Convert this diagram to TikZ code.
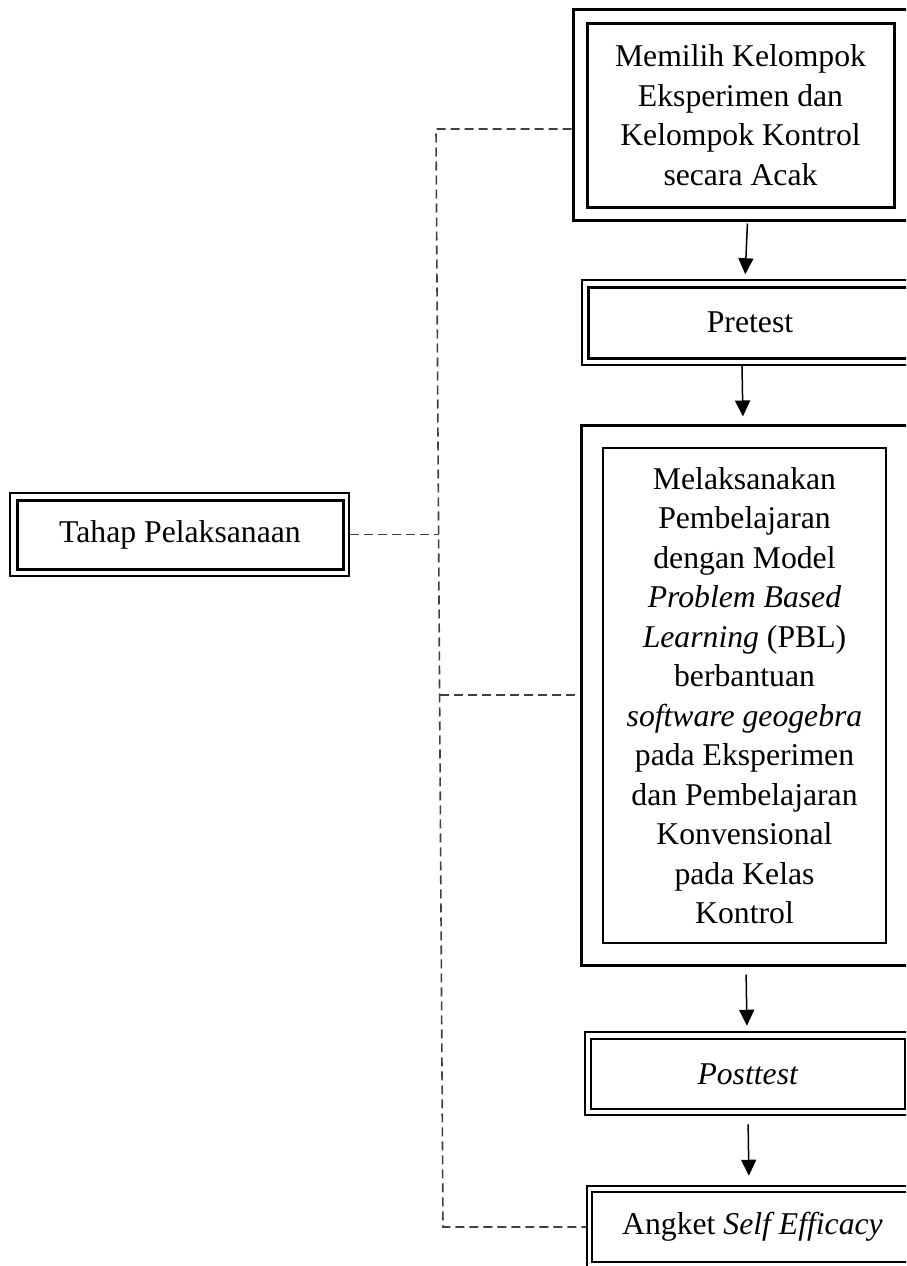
\documentclass[tikz,border=0pt]{standalone}
\usepackage{fontspec}
\setmainfont{Liberation Serif}
\usetikzlibrary{arrows.meta}

\begin{document}
\begin{tikzpicture}[x=1pt,y=-1pt,
  boxline/.style={draw=black, line width=#1, inner sep=0pt, anchor=center},
  boxtext/.style={align=center, font=\fontsize{31.7}{39.5}\selectfont},
  flowarrow/.style={-{Triangle[length=16pt,width=15pt]}, line width=1.5pt},
  dashlink/.style={draw=black!75, line width=1.6pt, dash pattern=on 9pt off 5pt}]

\useasboundingbox (0,0) rectangle (906,1266);
\clip (0,0) rectangle (906,1266);

% ------------------------------------------------------------
% Left box: stage name
% ------------------------------------------------------------
\node[boxline=2pt, minimum width=339pt, minimum height=83pt] (tahapO) at (179.5,534.5) {};
\node[boxline=3pt, boxtext, minimum width=326pt, minimum height=69pt] (tahapI) at (180,534.5)
{Tahap Pelaksanaan};

% ------------------------------------------------------------
% Right column: steps (outer frame + inner frame)
% ------------------------------------------------------------

% step 1
\node[boxline=3pt, minimum width=349pt, minimum height=211pt] (pilihO) at (747.5,114.5) {};
\node[boxline=3pt, boxtext, minimum width=307pt, minimum height=184pt] (pilihI) at (740.5,115)
{Memilih Kelompok\\Eksperimen dan\\Kelompok Kontrol\\secara Acak};

% step 2
\node[boxline=1.5pt, minimum width=336pt, minimum height=85pt] (preO) at (750,322.5) {};
\node[boxline=3pt, boxtext, minimum width=324pt, minimum height=71pt] (preI) at (750,322.5)
{Pretest};

% step 3
\node[boxline=3pt, minimum width=341pt, minimum height=540pt] (laksanaO) at (751.5,695) {};
\node[boxline=2.5pt, boxtext, minimum width=283pt, minimum height=495pt] (laksanaI) at (744.5,695.5)
{Melaksanakan\\Pembelajaran\\dengan Model\\\textit{Problem Based}\\\textit{Learning} (PBL)\\berbantuan\\\textit{software geogebra}\\pada Eksperimen\\dan Pembelajaran\\Konvensional\\pada Kelas\\Kontrol};

% step 4
\node[boxline=2.5pt, minimum width=326pt, minimum height=83pt] (postO) at (748,1073.5) {};
\node[boxline=2.5pt, boxtext, minimum width=314pt, minimum height=70pt] (postI) at (748,1074)
{\textit{Posttest}};

% step 5
\node[boxline=2.5pt, minimum width=331pt, minimum height=82pt] (angketO) at (752.5,1227) {};
\node[boxline=2.5pt, boxtext, minimum width=321pt, minimum height=70pt] (angketI) at (752.5,1227)
{Angket \textit{Self Efficacy}};

% ------------------------------------------------------------
% Arrows between steps
% ------------------------------------------------------------
\draw[flowarrow, shorten <=2pt, shorten >=5pt] (pilihO.south) -- ([xshift=-5pt]preO.north);
\draw[flowarrow, shorten >=7pt] ([xshift=-8pt]preO.south) -- ([xshift=-8.5pt]laksanaO.north);
\draw[flowarrow, shorten <=8pt, shorten >=5pt] ([xshift=-5.5pt]laksanaO.south) -- ([xshift=-1pt]postO.north);
\draw[flowarrow, shorten <=8pt, shorten >=9pt] (postO.south) -- ([xshift=-3.5pt]angketO.north);

% ------------------------------------------------------------
% Dashed bracket from stage to steps
% ------------------------------------------------------------
\coordinate (jTop) at (436,129);
\coordinate (jTahap) at (438.6,534.5);
\coordinate (jMid) at (439.6,695);
\coordinate (jBot) at (443,1227);

\draw[dashlink] (pilihO.west |- jTop) -- (jTop) -- (jTahap) -- (jMid) -- (jBot) -- (jBot -| angketO.west);
\draw[dashlink] (tahapO.east) -- (jTahap);
\draw[dashlink] (jMid) -- (laksanaO.west);

\end{tikzpicture}
\end{document}
